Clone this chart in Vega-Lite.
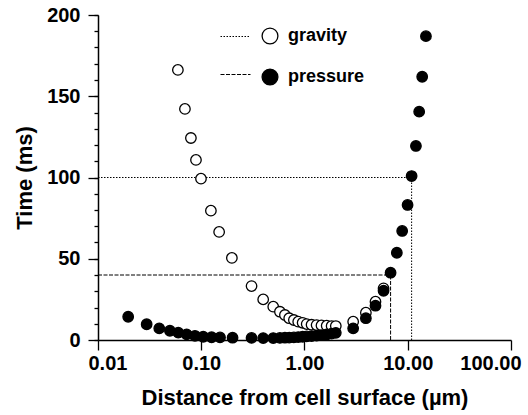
{
  "$schema": "https://vega.github.io/schema/vega-lite/v6.json",
  "autosize": {"type": "none"},
  "padding": {"left": 98, "top": 15, "right": 17, "bottom": 75},
  "width": 413,
  "height": 325,
  "background": "white",
  "config": {
    "view": {"stroke": null},
    "font": "Liberation Sans",
    "axis": {
      "grid": false,
      "domainColor": "black",
      "domainWidth": 1.5,
      "tickColor": "black",
      "tickWidth": 1.3,
      "labelFont": "Liberation Sans",
      "labelFontWeight": "bold",
      "labelFontSize": 20,
      "labelColor": "black",
      "titleFont": "Liberation Sans",
      "titleFontWeight": "bold",
      "titleFontSize": 22,
      "titleColor": "black"
    },
    "legend": {
      "labelFont": "Liberation Sans",
      "labelFontWeight": "bold",
      "labelFontSize": 18,
      "labelColor": "black"
    }
  },
  "datasets": {
    "points": [
      {"series": "gravity", "distance": 0.0594, "time": 166.2},
      {"series": "gravity", "distance": 0.0695, "time": 142.2},
      {"series": "gravity", "distance": 0.0794, "time": 124.3},
      {"series": "gravity", "distance": 0.0889, "time": 110.8},
      {"series": "gravity", "distance": 0.0994, "time": 99.3},
      {"series": "gravity", "distance": 0.124, "time": 79.6},
      {"series": "gravity", "distance": 0.149, "time": 66.5},
      {"series": "gravity", "distance": 0.198, "time": 50.5},
      {"series": "gravity", "distance": 0.307, "time": 33.2},
      {"series": "gravity", "distance": 0.398, "time": 25.0},
      {"series": "gravity", "distance": 0.498, "time": 20.5},
      {"series": "gravity", "distance": 0.578, "time": 17.4},
      {"series": "gravity", "distance": 0.646, "time": 15.4},
      {"series": "gravity", "distance": 0.711, "time": 13.4},
      {"series": "gravity", "distance": 0.789, "time": 12.3},
      {"series": "gravity", "distance": 0.869, "time": 11.3},
      {"series": "gravity", "distance": 0.959, "time": 10.6},
      {"series": "gravity", "distance": 1.05, "time": 9.8},
      {"series": "gravity", "distance": 1.17, "time": 9.4},
      {"series": "gravity", "distance": 1.31, "time": 9.2},
      {"series": "gravity", "distance": 1.46, "time": 9.0},
      {"series": "gravity", "distance": 1.64, "time": 8.8},
      {"series": "gravity", "distance": 1.83, "time": 8.6},
      {"series": "gravity", "distance": 2.01, "time": 8.6},
      {"series": "gravity", "distance": 2.96, "time": 11.3},
      {"series": "gravity", "distance": 3.93, "time": 16.8},
      {"series": "gravity", "distance": 4.87, "time": 23.6},
      {"series": "gravity", "distance": 5.83, "time": 31.8},
      {"series": "pressure", "distance": 0.0196, "time": 14.3},
      {"series": "pressure", "distance": 0.0296, "time": 9.7},
      {"series": "pressure", "distance": 0.0392, "time": 7.2},
      {"series": "pressure", "distance": 0.0497, "time": 5.7},
      {"series": "pressure", "distance": 0.0599, "time": 4.5},
      {"series": "pressure", "distance": 0.0722, "time": 3.5},
      {"series": "pressure", "distance": 0.0869, "time": 2.6},
      {"series": "pressure", "distance": 0.1045, "time": 2.0},
      {"series": "pressure", "distance": 0.126, "time": 1.7},
      {"series": "pressure", "distance": 0.152, "time": 1.6},
      {"series": "pressure", "distance": 0.201, "time": 1.4},
      {"series": "pressure", "distance": 0.307, "time": 1.3},
      {"series": "pressure", "distance": 0.398, "time": 1.2},
      {"series": "pressure", "distance": 0.498, "time": 1.2},
      {"series": "pressure", "distance": 0.578, "time": 1.3},
      {"series": "pressure", "distance": 0.646, "time": 1.4},
      {"series": "pressure", "distance": 0.711, "time": 1.5},
      {"series": "pressure", "distance": 0.789, "time": 1.6},
      {"series": "pressure", "distance": 0.869, "time": 1.8},
      {"series": "pressure", "distance": 0.959, "time": 2.0},
      {"series": "pressure", "distance": 1.05, "time": 2.2},
      {"series": "pressure", "distance": 1.17, "time": 2.4},
      {"series": "pressure", "distance": 1.31, "time": 2.7},
      {"series": "pressure", "distance": 1.46, "time": 3.0},
      {"series": "pressure", "distance": 1.64, "time": 3.4},
      {"series": "pressure", "distance": 1.83, "time": 3.9},
      {"series": "pressure", "distance": 2.01, "time": 4.4},
      {"series": "pressure", "distance": 2.96, "time": 7.2},
      {"series": "pressure", "distance": 3.93, "time": 13.4},
      {"series": "pressure", "distance": 4.87, "time": 21.1},
      {"series": "pressure", "distance": 5.83, "time": 30.3},
      {"series": "pressure", "distance": 6.82, "time": 41.4},
      {"series": "pressure", "distance": 7.84, "time": 53.7},
      {"series": "pressure", "distance": 8.83, "time": 67.1},
      {"series": "pressure", "distance": 9.96, "time": 83.1},
      {"series": "pressure", "distance": 10.9, "time": 100.9},
      {"series": "pressure", "distance": 12.0, "time": 119.4},
      {"series": "pressure", "distance": 12.9, "time": 140.5},
      {"series": "pressure", "distance": 13.8, "time": 162.0},
      {"series": "pressure", "distance": 15.0, "time": 187.0}
    ],
    "refs": [
      {"kind": "gravity", "x": 0.01, "x2": 10.9, "y": 100, "y2": 100},
      {"kind": "gravity", "x": 10.9, "x2": 10.9, "y": 0, "y2": 100},
      {"kind": "pressure", "x": 0.01, "x2": 6.82, "y": 40, "y2": 40},
      {"kind": "pressure", "x": 6.82, "x2": 6.82, "y": 0, "y2": 40}
    ]
  },
  "resolve": {"axis": {"y": "independent"}},
  "layer": [
    {
      "data": {"name": "refs"},
      "mark": {"type": "rule", "color": "black", "strokeWidth": 1},
      "encoding": {
        "x": {"field": "x", "type": "quantitative", "scale": {"type": "log", "domain": [0.01, 100], "nice": false},
          "axis": {"values": [0.01, 0.1, 1, 10, 100], "format": ".2f", "tickSize": 10, "labelPadding": 3,
            "title": "Distance from cell surface (µm)", "titlePadding": 14, "labelFlush": true, "labelFlushOffset": 10}},
        "x2": {"field": "x2"},
        "y": {"field": "y", "type": "quantitative", "scale": {"domain": [0, 200], "nice": false},
          "axis": {"orient": "left", "values": [0, 50, 100, 150, 200], "labelOverlap": false,
            "tickSize": 10, "labelPadding": 8, "title": "Time (ms)", "titlePadding": 10, "labelFlush": false}},
        "y2": {"field": "y2"},
        "strokeDash": {"field": "kind", "type": "nominal",
          "scale": {"range": [[1.5, 1.5], [4, 1.5]]},
          "legend": {"orient": "none", "legendX": 122, "legendY": 6, "title": null, "symbolType": "stroke",
            "symbolSize": 900, "symbolStrokeWidth": 1, "symbolStrokeColor": "black", "labelExpr": "''",
            "rowPadding": 13, "padding": 0, "labelOffset": 0}}
      }
    },
    {
      "data": {"name": "points"},
      "mark": {"type": "point", "shape": "circle", "filled": false, "stroke": "black", "strokeWidth": 1.3, "size": 110, "opacity": 1},
      "encoding": {
        "x": {"field": "distance", "type": "quantitative"},
        "y": {"field": "time", "type": "quantitative",
          "axis": {"orient": "left", "values": [0,10,20,30,40,50,60,70,80,90,100,110,120,130,140,150,160,170,180,190,200],
            "labels": false, "tickSize": 4, "domain": false, "title": null}},
        "fill": {"field": "series", "type": "nominal",
          "scale": {"range": ["white", "black"]},
          "legend": {"orient": "none", "legendX": 163, "legendY": 12, "title": null, "symbolType": "circle",
            "symbolSize": 250, "symbolStrokeColor": "black", "symbolStrokeWidth": 1.3, "symbolFillOpacity": 1,
            "rowPadding": 19, "padding": 0, "labelOffset": 9}}
      }
    }
  ]
}
